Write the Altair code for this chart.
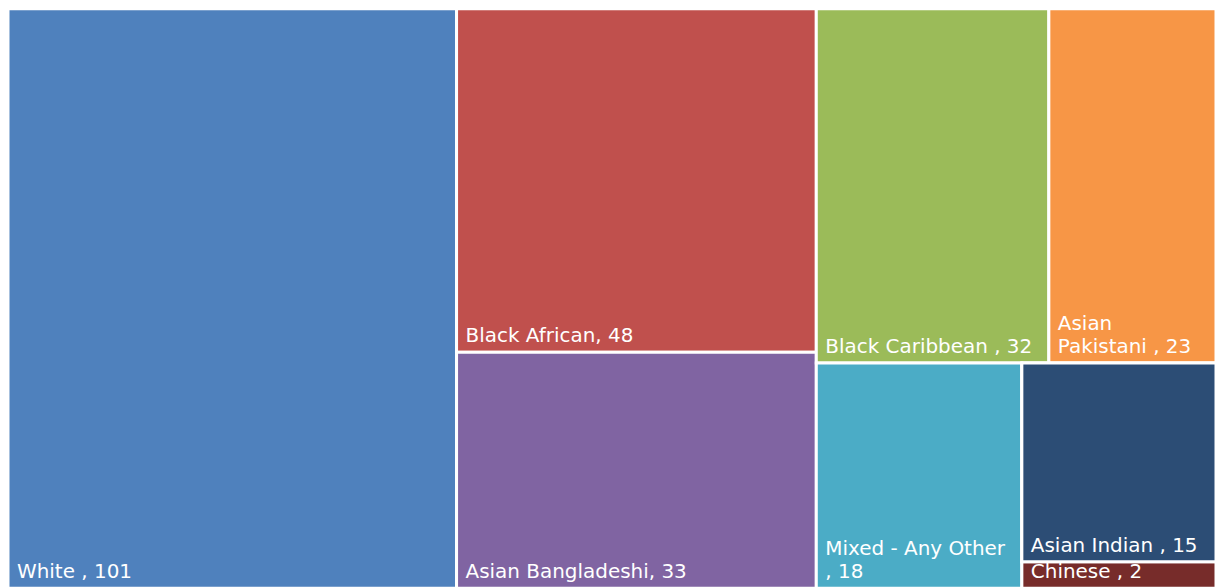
import altair as alt
import pandas as pd

categories = ["White", "Black African", "Asian Bangladeshi", "Black Caribbean",
              "Asian Pakistani", "Mixed - Any Other", "Asian Indian", "Chinese"]
values = [101, 48, 33, 32, 23, 18, 15, 2]
labels = ["White , 101", "Black African, 48", "Asian Bangladeshi, 33", "Black Caribbean , 32",
          "Asian\nPakistani , 23", "Mixed - Any Other\n, 18", "Asian Indian , 15", "Chinese , 2"]
colors = ["#4F81BD", "#C0504D", "#8064A2", "#9BBB59",
          "#F79646", "#4BACC6", "#2C4D75", "#772C2A"]

W, H = 1211, 581
LINE_H = 23


def squarify(vals, x0, y0, x1, y1, ratio=(1 + 5 ** 0.5) / 2):
    """d3.treemapSquarify layout (golden ratio)."""
    rects = [None] * len(vals)
    order = sorted(range(len(vals)), key=lambda i: -vals[i])
    nodes = [vals[i] for i in order]
    value = float(sum(nodes))
    n = len(nodes)
    i0 = i1 = 0
    while i0 < n:
        dx, dy = x1 - x0, y1 - y0
        sumv = nodes[i1]
        i1 += 1
        minv = maxv = sumv
        alpha = max(dy / dx, dx / dy) / (value * ratio)
        beta = sumv * sumv * alpha
        minr = max(maxv / beta, beta / minv)
        while i1 < n:
            nv = nodes[i1]
            s = sumv + nv
            mn, mx = min(minv, nv), max(maxv, nv)
            beta = s * s * alpha
            nr = max(mx / beta, beta / mn)
            if nr > minr:
                break
            sumv, minv, maxv, minr = s, mn, mx, nr
            i1 += 1
        row = range(i0, i1)
        if dx < dy:
            ny = y0 + dy * sumv / value
            cx = x0
            for k in row:
                w = dx * nodes[k] / sumv
                rects[order[k]] = (cx, y0, cx + w, ny)
                cx += w
            y0 = ny
        else:
            nx = x0 + dx * sumv / value
            cy = y0
            for k in row:
                h = dy * nodes[k] / sumv
                rects[order[k]] = (x0, cy, nx, cy + h)
                cy += h
            x0 = nx
        value -= sumv
        i0 = i1
    return rects


rects = squarify(values, 0, 0, W, H)
df = pd.DataFrame({
    "category": categories,
    "value": values,
    "label": labels,
    "x0": [r[0] for r in rects],
    "y0": [r[1] for r in rects],
    "x1": [r[2] for r in rects],
    "y1": [r[3] for r in rects],
})
# first text line sits (lines - 1) line-heights above the cell's bottom edge
df["ty"] = df["y1"] - (df["label"].str.count("\n")) * LINE_H

xs = alt.Scale(domain=[0, W], nice=False, zero=False)
ys = alt.Scale(domain=[0, H], nice=False, zero=False, reverse=True)
color = alt.Color("category:N", scale=alt.Scale(domain=categories, range=colors), legend=None)

base = alt.Chart(df)

rect = base.mark_rect(stroke="white", strokeWidth=3).encode(
    x=alt.X("x0:Q", scale=xs, axis=None),
    x2="x1:Q",
    y=alt.Y("y0:Q", scale=ys, axis=None),
    y2="y1:Q",
    color=color,
)

text_enc = dict(
    x=alt.X("x0:Q", scale=xs, axis=None),
    y=alt.Y("ty:Q", scale=ys, axis=None),
    text="label:N",
)
txt_kw = dict(align="left", baseline="alphabetic", dx=9, dy=-10, fontSize=20,
              font="DejaVu Sans", color="white", lineBreak="\n", lineHeight=LINE_H)

text_small = base.mark_text(**txt_kw).encode(**text_enc).transform_filter(
    alt.datum.category == "Chinese")
cover = rect.transform_filter(alt.datum.category == "Asian Indian")
text_main = base.mark_text(**txt_kw).encode(**text_enc).transform_filter(
    alt.datum.category != "Chinese")

chart = alt.layer(rect, text_small, cover, text_main).properties(
    width=W, height=H, padding=0, autosize=alt.AutoSizeParams(type="none"),
    background="white",
).configure_view(stroke=None)

chart.save("out.html", embed_options={"renderer": "svg", "actions": False})
